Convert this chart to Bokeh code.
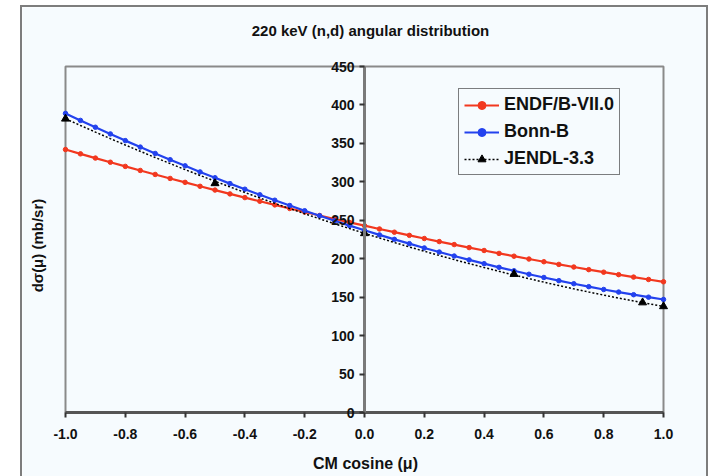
import math
from bokeh.plotting import figure
from bokeh.models import (FixedTicker, PrintfTickFormatter, Legend, LegendItem,
                          Label, Range1d)
from bokeh.embed import file_html
from bokeh.resources import INLINE

# ---------------- data ----------------
mu = [-1.00, -0.95, -0.90, -0.85, -0.80, -0.75, -0.70, -0.65, -0.60, -0.55,
      -0.50, -0.45, -0.40, -0.35, -0.30, -0.25, -0.20, -0.15, -0.10, -0.05,
      0.00, 0.05, 0.10, 0.15, 0.20, 0.25, 0.30, 0.35, 0.40, 0.45,
      0.50, 0.55, 0.60, 0.65, 0.70, 0.75, 0.80, 0.85, 0.90, 0.95, 1.00]

endf = [342.0, 336.4, 330.9, 325.5, 320.1, 314.8, 309.6, 304.4, 299.3, 294.2,
        289.3, 284.3, 279.5, 274.7, 270.0, 265.3, 260.7, 256.2, 251.7, 247.3,
        243.0, 238.7, 234.5, 230.4, 226.3, 222.3, 218.4, 214.5, 210.7, 206.9,
        203.3, 199.6, 196.1, 192.6, 189.2, 185.8, 182.5, 179.3, 176.1, 173.0, 170.0]

bonn = [389.0, 379.9, 371.0, 362.3, 353.6, 345.2, 336.9, 328.8, 320.8, 312.9,
        305.3, 297.7, 290.4, 283.2, 276.1, 269.2, 262.4, 255.9, 249.4, 243.1,
        237.0, 231.0, 225.2, 219.6, 214.0, 208.7, 203.5, 198.5, 193.6, 188.8,
        184.3, 179.8, 175.6, 171.5, 167.5, 163.7, 160.0, 156.6, 153.2, 150.0, 147.0]

jendl = [382.0, 373.3, 364.7, 356.2, 347.9, 339.7, 331.6, 323.7, 315.9, 308.3,
         300.8, 293.4, 286.1, 279.0, 272.0, 265.2, 258.5, 251.9, 245.5, 239.2,
         233.0, 227.0, 221.1, 215.3, 209.7, 204.2, 198.8, 193.6, 188.5, 183.6,
         178.8, 174.1, 169.5, 165.1, 160.8, 156.7, 152.7, 148.8, 145.1, 141.5, 138.0]

jendl_mu_pts = [-1.0, -0.5, 0.0, 0.5, 0.93, 1.0]
jendl_pts = [382, 298, 233, 180, 143, 138]

x_ticks = [-1.0, -0.8, -0.6, -0.4, -0.2, 0.0, 0.2, 0.4, 0.6, 0.8, 1.0]
y_ticks = [0, 50, 100, 150, 200, 250, 300, 350, 400, 450]
x_min, x_max = -1.0, 1.0
y_min, y_max = 0, 450

series_names = ["ENDF/B-VII.0", "Bonn-B", "JENDL-3.3"]
title_text = "220 keV (n,d) angular distribution"
x_label = "CM cosine (\u03bc)"
y_label = "d\u03c3(\u03bc) (mb/sr)"

# ---------------- layout (pixels) ----------------
W, H = 684, 469                 # chart area (placed at page offset 22, 7)
PL, PR, PT, PB = 43, 641, 59, 405   # plot-area edges inside the chart area
ux = (x_max - x_min) / (PR - PL)
uy = (y_max - y_min) / (PB - PT)

BG = "#f6fbfe"
RED = "#f2381f"
BLUE = "#2342ee"
FONT = "Liberation Sans"
TXT = "#111111"

p = figure(width=W, height=H,
           x_range=Range1d(x_min - PL * ux, x_max + (W - PR) * ux),
           y_range=Range1d(y_min - (H - PB) * uy, y_max + PT * uy),
           output_backend="svg", toolbar_location=None,
           min_border_left=0, min_border_right=0,
           min_border_top=0, min_border_bottom=0,
           background_fill_color=BG, border_fill_color=BG,
           outline_line_color=None)
p.margin = (7, 0, 0, 22)
p.styles = {"box-shadow": "0 0 0 2px #7d7d7d"}

p.xgrid.visible = False
p.ygrid.visible = False

# plot-area border
p.quad(left=[x_min], right=[x_max], bottom=[y_min], top=[y_max],
       fill_color=None, line_color="#8a8a8a", line_width=2)

# x axis along y = 0
xa = p.xaxis[0]
xa.fixed_location = 0
xa.bounds = (x_min, x_max)
xa.ticker = FixedTicker(ticks=x_ticks)
xa.formatter = PrintfTickFormatter(format="%.1f")
xa.major_tick_in = 0
xa.major_tick_out = 5
xa.major_tick_line_color = "#333333"
xa.major_tick_line_width = 2
xa.minor_tick_line_color = None
xa.axis_line_color = "#555555"
xa.axis_line_width = 3
xa.major_label_text_font = FONT
xa.major_label_text_font_style = "bold"
xa.major_label_text_font_size = "14px"
xa.major_label_text_color = TXT
xa.major_label_standoff = 11

# y axis crossing at x = 0
ya = p.yaxis[0]
ya.fixed_location = 0
ya.bounds = (y_min, y_max)
ya.ticker = FixedTicker(ticks=y_ticks)
ya.major_tick_in = 0
ya.major_tick_out = 5
ya.major_tick_line_color = "#333333"
ya.major_tick_line_width = 2
ya.minor_tick_line_color = None
ya.axis_line_color = "#7a7a7a"
ya.axis_line_width = 3
ya.major_label_text_font = FONT
ya.major_label_text_font_style = "bold"
ya.major_label_text_font_size = "14px"
ya.major_label_text_color = TXT
ya.major_label_standoff = 5

# series
r_line = p.line(mu, endf, line_color=RED, line_width=2.2)
r_pts = p.scatter(mu, endf, marker="circle", size=4.5, color=RED)
b_line = p.line(mu, bonn, line_color=BLUE, line_width=2.2)
b_pts = p.scatter(mu, bonn, marker="circle", size=4.5, color=BLUE)
j_line = p.line(mu, jendl, line_color="black", line_width=1.5, line_dash="2 2")
j_pts = p.scatter(jendl_mu_pts, jendl_pts, marker="triangle", size=8, color="black")

legend = Legend(items=[
    LegendItem(label=series_names[0], renderers=[r_line, r_pts]),
    LegendItem(label=series_names[1], renderers=[b_line, b_pts]),
    LegendItem(label=series_names[2], renderers=[j_line, j_pts]),
], location=(436, 301))
legend.border_line_color = "black"
legend.border_line_width = 1.5
legend.background_fill_color = BG
legend.background_fill_alpha = 1.0
legend.label_text_font = FONT
legend.label_text_font_size = "18px"
legend.label_text_font_style = "bold"
legend.label_text_color = TXT
legend.label_height = 20
legend.glyph_height = 20
legend.glyph_width = 35
legend.label_standoff = 5
legend.spacing = 6
legend.padding = 5
legend.margin = 0
p.add_layout(legend)

# title, axis labels (screen units from the bottom-left of the chart area)
p.add_layout(Label(x=348, y=H - 23, x_units="screen", y_units="screen",
                   text=title_text, text_align="center", text_baseline="middle",
                   text_font=FONT, text_font_style="bold",
                   text_font_size="15px", text_color=TXT))
p.add_layout(Label(x=343, y=H - 456, x_units="screen", y_units="screen",
                   text=x_label, text_align="center", text_baseline="middle",
                   text_font=FONT, text_font_style="bold",
                   text_font_size="16px", text_color=TXT))
p.add_layout(Label(x=15, y=H - 238, x_units="screen", y_units="screen",
                   text=y_label, angle=math.pi / 2,
                   text_align="center", text_baseline="middle",
                   text_font=FONT, text_font_style="bold",
                   text_font_size="15px", text_color=TXT))

open("out.html", "w").write(file_html(p, INLINE))
